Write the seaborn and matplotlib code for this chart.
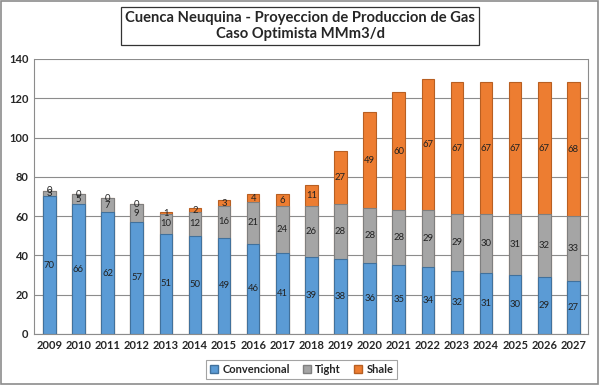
import seaborn as sns
import pandas as pd
import matplotlib.pyplot as plt
from matplotlib.patches import Rectangle, Patch

years = [str(y) for y in range(2009, 2028)]
convencional = [70, 66, 62, 57, 51, 50, 49, 46, 41, 39, 38, 36, 35, 34, 32, 31, 30, 29, 27]
tight = [3, 5, 7, 9, 10, 12, 16, 21, 24, 26, 28, 28, 28, 29, 29, 30, 31, 32, 33]
shale = [0, 0, 0, 0, 1, 2, 3, 4, 6, 11, 27, 49, 60, 67, 67, 67, 67, 67, 68]

c_conv = "#5B9BD5"
c_tight = "#A5A5A5"
c_shale = "#ED7D31"

sns.set_theme(style="white")
plt.rcParams["font.family"] = ["Lato", "DejaVu Sans"]

df = pd.DataFrame({"year": years, "conv": convencional, "tight": tight, "shale": shale})
df["ct"] = df["conv"] + df["tight"]
df["total"] = df["ct"] + df["shale"]

fig = plt.figure(figsize=(6, 3.85), dpi=100)
ax = fig.add_axes([0.057, 0.1325, 0.923, 0.7145])

# stacked look: draw cumulative heights from top layer down
sns.barplot(data=df, x="year", y="total", color=c_shale, width=0.43, saturation=1,
            edgecolor="#B85F22", linewidth=0.8, ax=ax)
sns.barplot(data=df, x="year", y="ct", color=c_tight, width=0.43, saturation=1,
            edgecolor="#7F7F7F", linewidth=0.8, ax=ax)
sns.barplot(data=df, x="year", y="conv", color=c_conv, width=0.43, saturation=1,
            edgecolor="#41719C", linewidth=0.8, ax=ax)

for i, row in df.iterrows():
    ax.text(i, row["conv"] / 2, str(row["conv"]), ha="center", va="center", fontsize=6.8, color="#222222")
    ax.text(i, row["conv"] + row["tight"] / 2, str(row["tight"]), ha="center", va="center", fontsize=6.8, color="#222222")
    ax.text(i, row["ct"] + row["shale"] / 2, str(row["shale"]), ha="center", va="center", fontsize=6.8, color="#222222")

ax.set_ylim(0, 140)
ax.set_xlim(-0.52, 18.5)
ax.set_yticks(range(0, 141, 20))
ax.yaxis.grid(True, color="#8C8C8C", linewidth=0.8)
ax.set_axisbelow(True)
ax.set_xlabel("")
ax.set_ylabel("")
ax.tick_params(axis="both", labelsize=8, length=0, pad=4)
for lab in ax.get_xticklabels() + ax.get_yticklabels():
    lab.set_fontweight("bold")
for s in ["left", "bottom", "right"]:
    ax.spines[s].set_color("#8C8C8C")
    ax.spines[s].set_linewidth(0.8)
ax.spines["top"].set_visible(False)

fig.text(0.5, 0.932, "Cuenca Neuquina - Proyeccion de Produccion de Gas\nCaso Optimista MMm3/d",
         ha="center", va="center", fontsize=10.6, fontweight="bold", linespacing=1.2,
         bbox=dict(boxstyle="square,pad=0.25", facecolor="white", edgecolor="#333333", linewidth=0.9))

handles = [Patch(facecolor=c_conv, edgecolor="#41719C", label="Convencional"),
           Patch(facecolor=c_tight, edgecolor="#7F7F7F", label="Tight"),
           Patch(facecolor=c_shale, edgecolor="#B85F22", label="Shale")]
leg = fig.legend(handles=handles, loc="center", bbox_to_anchor=(0.503, 0.04), ncol=3,
                 fontsize=8, frameon=True, fancybox=False, handlelength=0.7, handleheight=0.7,
                 handletextpad=0.4, columnspacing=1.2, borderpad=0.35)
leg.get_frame().set_edgecolor("#8C8C8C")
leg.get_frame().set_linewidth(0.8)
for t in leg.get_texts():
    t.set_fontweight("bold")

fig.patches.append(Rectangle((0.002, 0.003), 0.995, 0.994, transform=fig.transFigure,
                             fill=False, edgecolor="#8C8C8C", linewidth=1.2))

fig.savefig("out.png", dpi=100)
